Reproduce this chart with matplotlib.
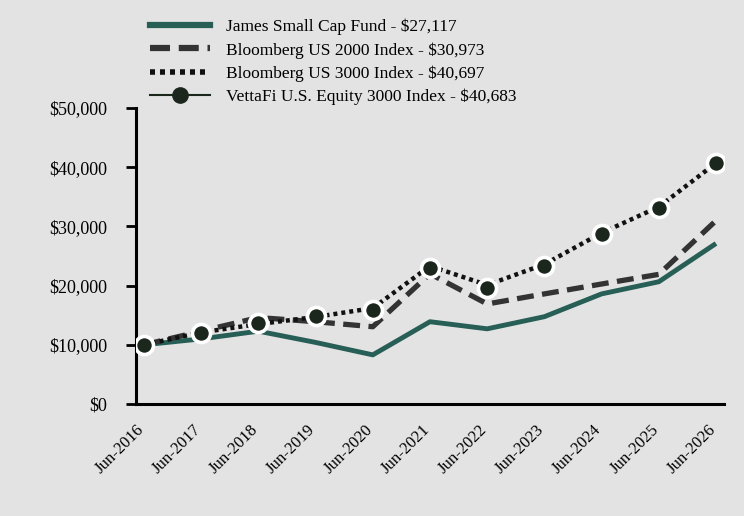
import matplotlib
matplotlib.use("Agg")
import matplotlib.pyplot as plt
from matplotlib.lines import Line2D
from matplotlib.ticker import FuncFormatter
from matplotlib.transforms import ScaledTranslation

years = ["Jun-2016", "Jun-2017", "Jun-2018", "Jun-2019", "Jun-2020", "Jun-2021",
         "Jun-2022", "Jun-2023", "Jun-2024", "Jun-2025", "Jun-2026"]
fund = [10000, 11000, 12300, 10400, 8300, 13900, 12700, 14750, 18600, 20650, 27117]
r2000 = [10000, 12300, 14600, 13900, 13050, 22000, 16900, 18600, 20270, 21900, 30973]
r3000 = [10000, 12100, 13500, 14700, 16200, 23300, 20100, 23600, 28900, 33300, 40697]
vetta = [10000, 11940, 13630, 14860, 15880, 22920, 19650, 23310, 28660, 33050, 40683]
labels = ["James Small Cap Fund - $27,117", "Bloomberg US 2000 Index - $30,973",
          "Bloomberg US 3000 Index - $40,697", "VettaFi U.S. Equity 3000 Index - $40,683"]
yticks = [0, 10000, 20000, 30000, 40000, 50000]

plt.rcParams['font.family'] = ['Liberation Serif', 'DejaVu Serif']
bg = '#e3e3e3'
fig = plt.figure(figsize=(7.44, 5.16), dpi=100, facecolor=bg)
ax = fig.add_axes([136/744, 1-404/516, (724-136)/744, (404-108)/516])
ax.set_facecolor(bg)

x = list(range(len(years)))
c_fund = '#275e55'
c_2000 = '#333333'
c_3000 = '#111111'
c_mk = '#1b261d'

ax.plot(x, fund, color=c_fund, lw=3.5, solid_capstyle='butt', zorder=2)
ax.plot(x, r2000, color=c_2000, lw=3.8, dashes=(3.2, 1.6), zorder=3)
ax.plot(x, r3000, color=c_3000, lw=3.2, dashes=(0.9, 0.9), zorder=4)
ax.plot(x, vetta, color=c_mk, lw=1.5, marker='o', markersize=13, markerfacecolor=c_mk,
        markeredgecolor='white', markeredgewidth=2.6, linestyle='none', zorder=5)

ax.set_xlim(-0.14, 10.14)
ax.set_ylim(0, 50000)
ax.set_yticks(yticks)
ax.yaxis.set_major_formatter(FuncFormatter(lambda v, p: "${:,.0f}".format(v)))
ax.set_xticks(x)
ax.set_xticklabels(years, rotation=45, ha='right', va='top', rotation_mode='anchor')
ax.tick_params(axis='x', length=0, pad=13, labelsize=12)
ax.tick_params(axis='y', length=7, width=2, direction='out', labelsize=13, pad=14)
off = ScaledTranslation(-6/72, 0, fig.dpi_scale_trans)
for lab in ax.get_xticklabels():
    lab.set_transform(lab.get_transform() + off)
for s in ['top', 'right']:
    ax.spines[s].set_visible(False)
for s in ['left', 'bottom']:
    ax.spines[s].set_linewidth(2.2)

handles = [
    Line2D([], [], color=c_fund, lw=4.5),
    Line2D([], [], color=c_2000, lw=4.5, dashes=(3.2, 1.4)),
    Line2D([], [], color=c_3000, lw=4.0, dashes=(0.9, 0.9)),
    Line2D([], [], color=c_mk, lw=1.5, marker='o', markersize=11, markerfacecolor=c_mk,
           markeredgecolor=c_mk),
]
fig.legend(handles, labels, loc='upper left', bbox_to_anchor=(143/744, 1-12/516),
           frameon=False, fontsize=12.5, handlelength=3.45, handletextpad=0.92,
           labelspacing=0.38, borderaxespad=0)

fig.savefig('out.png', dpi=100, facecolor=bg)
